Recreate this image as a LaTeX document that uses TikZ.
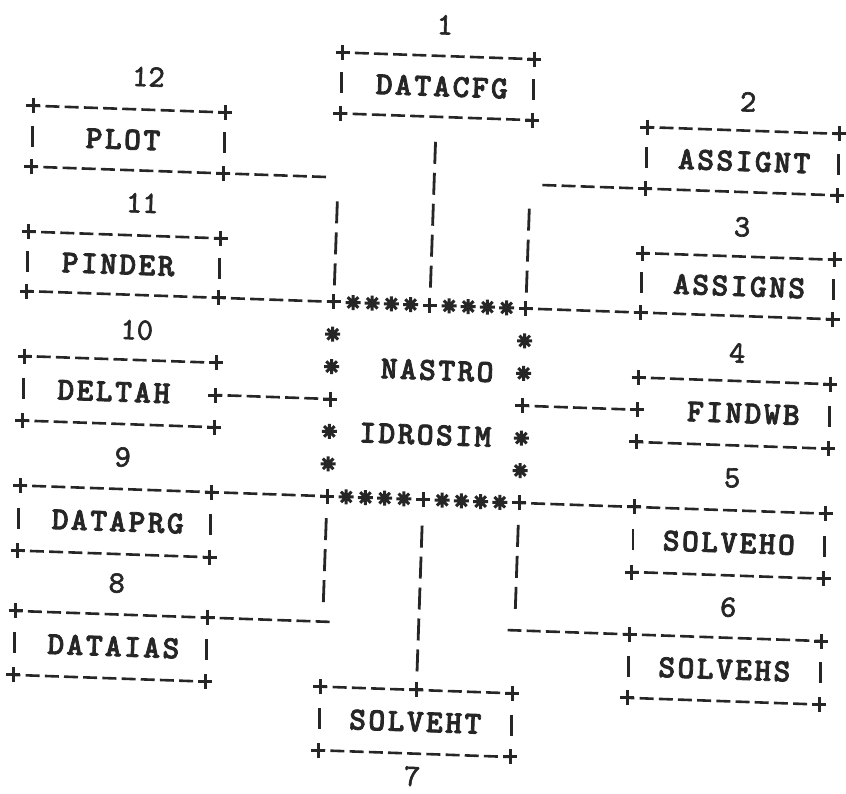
\documentclass[tikz,border=0pt]{standalone}
\usepackage{fontspec}
\usetikzlibrary{calc}
\newfontfamily\tw{lmmonolt10-bold.otf}[LetterSpace=7.5,FakeBold=2.5]
\newfontfamily\twn{lmmono10-regular.otf}[FakeBold=2]
\tikzset{
  hl/.style={draw=black!85, line width=1.3pt, dash pattern=on 7pt off 2.6pt, dash phase=3.5pt},
  hlb/.style={draw=black!85, line width=1.3pt, dash pattern=on 7pt off 2.6pt, dash phase=0pt, shorten <=6.1pt},
  vl/.style={draw=black!85, line width=1.4pt, dash pattern=on 11pt off 4.5pt},
  twfont/.style={font=\tw\fontsize{16pt}{32.4pt}\selectfont},
  twbox/.style={rectangle, inner sep=0pt, outer sep=0pt, minimum width=96pt, transform shape, text=black!85, twfont},
  lab/.style={inner sep=0pt, outer sep=0pt, transform shape, text=black!85, font=\twn\fontsize{15.5pt}{18pt}\selectfont},
  pics/plus/.style={code={\draw[black!85, line width=1.5pt] (-7,0) -- (7,0) (0,-7.5) -- (0,7.5);}},
  pics/bar/.style={code={\draw[black!85, line width=1.4pt] (0,-10.5) -- (0,10.5);}},
  pics/ast/.style={code={\draw[black!85, line width=1.5pt] (-7.5,0) -- (7.5,0) (0,-7.5) -- (0,7.5) (-5.3,-5.3) -- (5.3,5.3) (-5.3,5.3) -- (5.3,-5.3);
    \fill[black!85] (0,0) circle (3.2);}},
}
\newcommand\tbox[3]{%
  \draw[hl] (#1.north west) -- (#1.north east);
  \draw[hl] (#1.south west) -- (#1.south east);
  \pic at (#1.north west) {plus};
  \pic at (#1.north east) {plus};
  \pic at (#1.south west) {plus};
  \pic at (#1.south east) {plus};
  \pic at (#1.west) {#2};
  \pic at (#1.east) {#3};
}
\begin{document}
\begin{tikzpicture}[x=0.5pt,y=-0.5pt]
\useasboundingbox (0,0) rectangle (846,793);
\begin{scope}[rotate around={-2:(423,396)}]
% boxes
\node[twbox, minimum height=30.5pt] (dcfg) at (426.65,86) {\kern4.4pt DATACFG};
\node[twbox, minimum height=30.5pt] (plot) at (119.4,150) {\kern-5.2pt PLOT};
\node[twbox, minimum height=30.75pt] (assignt) at (733.8,150.25) {\kern2pt ASSIGNT};
\node[twbox, minimum height=29.75pt] (pinder) at (119.4,275.25) {\kern-5.6pt PINDER};
\node[twbox, minimum height=29.75pt] (assigns) at (733.8,275.25) {\kern1.4pt ASSIGNS};
\node[twbox, minimum height=32.25pt] (deltah) at (119.4,402.25) {\kern-5.5pt DELTAH};
\node[twbox, minimum height=32.25pt] (findwb) at (733.8,402.25) {\kern10pt FINDWB};
\node[twbox, minimum height=32.55pt] (dataprg) at (119.4,532.05) {\kern3pt DATAPRG};
\node[twbox, minimum height=32.55pt] (solveho) at (733.8,532.05) {SOLVEHO};
\node[twbox, minimum height=32pt] (dataias) at (119.4,657) {\kern3pt DATAIAS};
\node[twbox, minimum height=31.75pt] (solvehs) at (733.8,658.75) {SOLVEHS};
\node[twbox, minimum height=31.85pt] (solveht) at (426.65,721.85) {SOLVEHT};
\node[twbox, minimum width=96.05pt, minimum height=97.25pt, align=center] (nas) at (426.65,402.25) {\kern9.6pt NASTRO\\IDROSIM};
% labels
\node[lab] (l1) at (432,24.2) {1};
\node[lab] (l2) at (737.7,90.7) {2};
\node[lab] (l3) at (736.1,215.9) {3};
\node[lab] (l4) at (735.5,342) {4};
\node[lab] (l5) at (734.9,467.2) {5};
\node[lab] (l6) at (735.4,596.4) {6};
\node[lab] (l7) at (425.4,776.5) {7};
\node[lab] (l8) at (123.5,593.7) {8};
\node[lab] (l9) at (125.1,467.5) {9};
\node[lab] (l10) at (134.7,340) {10};
\node[lab] (l11) at (135.8,212.9) {11};
\node[lab] (l12) at (137.5,86.5) {12};
% box borders
\tbox{dcfg}{bar}{bar}
\tbox{plot}{bar}{bar}
\tbox{assignt}{bar}{bar}
\tbox{pinder}{bar}{bar}
\tbox{assigns}{bar}{bar}
\tbox{deltah}{bar}{plus}
\tbox{findwb}{plus}{bar}
\tbox{dataprg}{bar}{bar}
\tbox{solveho}{bar}{bar}
\tbox{dataias}{bar}{bar}
\tbox{solvehs}{bar}{bar}
\tbox{solveht}{bar}{bar}
\pic at (solveht.north) {plus};
% central box border of stars
\foreach \i in {1,2,3,4,6,7,8,9}{
  \pic at ($(nas.north west)!\i/10!(nas.north east)$) {ast};
  \pic at ($(nas.south west)!\i/10!(nas.south east)$) {ast};
}
\foreach \j in {1,2,4,5}{
  \pic at ($(nas.north west)!\j/6!(nas.south west)$) {ast};
  \pic at ($(nas.north east)!\j/6!(nas.south east)$) {ast};
}
\foreach \a in {north west,north,north east,west,east,south west,south,south east}
  \pic at (nas.\a) {plus};
% connectors
\coordinate (c12) at (plot.south east -| nas.north west);
\draw[hlb] (c12) -- (plot.south east);
\draw[vl, shorten <=12pt, shorten >=8pt] (c12) -- (nas.north west);
\draw[vl, shorten <=12.5pt, shorten >=8pt] (dcfg.south) -- (nas.north);
\coordinate (c2) at (nas.north east |- assignt.south west);
\draw[hlb] (c2) -- (assignt.south west);
\draw[vl, shorten <=12pt, shorten >=8pt] (c2) -- (nas.north east);
\draw[hl] (pinder.south east) -- (nas.north west);
\draw[hl] (nas.north east) -- (assigns.south west);
\draw[hl] (deltah.east) -- (nas.west);
\draw[hl] (nas.east) -- (findwb.west);
\draw[hl] (dataprg.north east) -- (nas.south west);
\draw[hl] (nas.south east) -- (solveho.north west);
\coordinate (c8) at (nas.south west |- dataias.north east);
\draw[vl, shorten <=11pt, shorten >=8pt] (nas.south west) -- (c8);
\draw[hl, shorten >=-3.5pt] (dataias.north east) -- (c8);
\draw[vl, shorten <=13pt, shorten >=8pt] (nas.south) -- (solveht.north);
\coordinate (c6) at (nas.south east |- solvehs.north west);
\draw[vl, shorten <=11pt, shorten >=8pt] (nas.south east) -- (c6);
\draw[hl, shorten >=-3.5pt] (solvehs.north west) -- (c6);
\end{scope}
\end{tikzpicture}
\end{document}
